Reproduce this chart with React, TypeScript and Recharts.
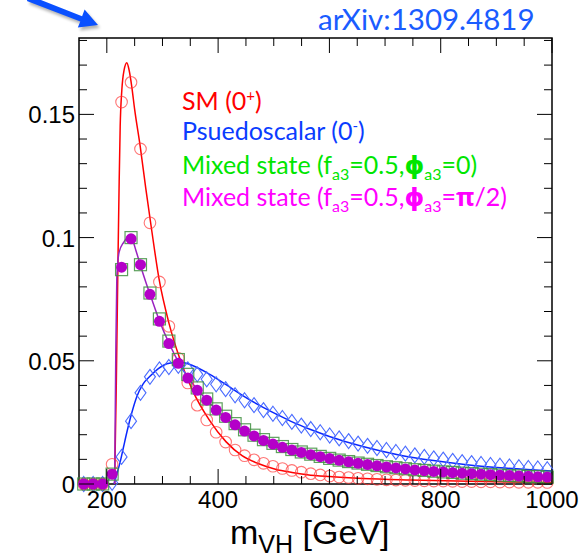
import { ComposedChart, Line, Scatter, XAxis, YAxis, ReferenceArea } from "recharts";

// bin centres of the 17 GeV bins, 150 - 1000 GeV
const binCentres = [
  158.5, 175.5, 192.5, 209.5, 226.5, 243.5, 260.5, 277.5, 294.5, 311.5,
  328.5, 345.5, 362.5, 379.5, 396.5, 413.5, 430.5, 447.5, 464.5, 481.5,
  498.5, 515.5, 532.5, 549.5, 566.5, 583.5, 600.5, 617.5, 634.5, 651.5,
  668.5, 685.5, 702.5, 719.5, 736.5, 753.5, 770.5, 787.5, 804.5, 821.5,
  838.5, 855.5, 872.5, 889.5, 906.5, 923.5, 940.5, 957.5, 974.5, 991.5,
];

const smYield = [
  0, 0, 0, 0.008, 0.155, 0.163, 0.136, 0.106, 0.082, 0.064,
  0.051, 0.041, 0.032, 0.026, 0.021, 0.017, 0.0138, 0.0115, 0.0098, 0.0084,
  0.0072, 0.0063, 0.0055, 0.0048, 0.0042, 0.0037, 0.0032, 0.0028, 0.0026, 0.0023,
  0.0021, 0.0019, 0.0017, 0.0016, 0.0015, 0.0014, 0.0013, 0.0012, 0.0012, 0.0011,
  0.001, 0.001, 0.0009, 0.0009, 0.0008, 0.0008, 0.0007, 0.0007, 0.0007, 0.0006,
];

const psYield = [
  0, 0, 0, 0.0005, 0.011, 0.0255, 0.037, 0.0435, 0.0465, 0.0475,
  0.048, 0.0465, 0.0445, 0.0425, 0.0405, 0.0385, 0.036, 0.034, 0.032, 0.03,
  0.0285, 0.0268, 0.0252, 0.0237, 0.0223, 0.021, 0.0197, 0.0185, 0.0174, 0.0164,
  0.0155, 0.0146, 0.0138, 0.013, 0.0123, 0.0116, 0.011, 0.0104, 0.0099, 0.0094,
  0.0089, 0.0085, 0.0081, 0.0077, 0.0074, 0.0071, 0.0068, 0.0065, 0.0063, 0.006,
];

const mixPhi0Yield = [
  0, 0, 0, 0.004, 0.087, 0.1, 0.089, 0.0775, 0.067, 0.058,
  0.0505, 0.0445, 0.039, 0.0345, 0.0305, 0.0275, 0.0245, 0.022, 0.0198, 0.018,
  0.0165, 0.0152, 0.014, 0.013, 0.0121, 0.0112, 0.0104, 0.0097, 0.0091, 0.0085,
  0.008, 0.0075, 0.007, 0.0066, 0.0062, 0.0058, 0.0055, 0.0052, 0.0049, 0.0047,
  0.0044, 0.0042, 0.004, 0.0038, 0.0036, 0.0034, 0.0033, 0.0031, 0.003, 0.0028,
];

const mixPhiHalfPiYield = [
  0, 0, 0, 0.004, 0.088, 0.0995, 0.089, 0.077, 0.066, 0.057,
  0.049, 0.043, 0.038, 0.034, 0.03, 0.027, 0.024, 0.0215, 0.0195, 0.0177,
  0.0162, 0.0149, 0.0138, 0.0128, 0.0119, 0.0111, 0.0103, 0.0096, 0.009, 0.0084,
  0.0079, 0.0074, 0.0069, 0.0065, 0.0061, 0.0057, 0.0054, 0.0051, 0.0049, 0.0046,
  0.0044, 0.0042, 0.004, 0.0038, 0.0036, 0.0034, 0.0032, 0.0031, 0.0029, 0.0028,
];

// fitted shapes
const smFitMass = [214, 217, 220, 222, 224, 227, 231, 236, 240, 245, 250, 260, 270, 280, 294, 312, 330, 354, 384, 414, 443, 473, 503, 533, 560, 600, 660, 745, 850, 1000];
const smFitValue = [0, 0.04, 0.09, 0.12, 0.145, 0.16, 0.168, 0.171, 0.168, 0.161, 0.152, 0.137, 0.12, 0.104, 0.083, 0.065, 0.0516, 0.038, 0.026, 0.0172, 0.0115, 0.0082, 0.006, 0.0047, 0.0038, 0.003, 0.0022, 0.0016, 0.0011, 0.0006];

const psFitMass = [213, 218, 224, 230, 236, 245, 254, 265, 278, 292, 308, 330, 355, 385, 415, 445, 475, 505, 535, 565, 600, 660, 727, 787, 847, 907, 1000];
const psFitValue = [0, 0.004, 0.009, 0.015, 0.021, 0.029, 0.0355, 0.0405, 0.0438, 0.0467, 0.0488, 0.0495, 0.048, 0.0445, 0.0402, 0.0358, 0.0318, 0.0283, 0.025, 0.0222, 0.0193, 0.0152, 0.0117, 0.0095, 0.0078, 0.0066, 0.0053];

const mixFitMass = [214, 216, 218, 222, 230, 240, 245, 252, 260, 270, 280, 295, 312, 330, 350, 380, 415, 450, 500, 550, 600, 660, 730, 800, 900, 1000];
const mixFitValue = [0, 0.05, 0.084, 0.094, 0.098, 0.1, 0.0995, 0.095, 0.089, 0.082, 0.0755, 0.066, 0.057, 0.049, 0.042, 0.034, 0.0265, 0.021, 0.0162, 0.0129, 0.0105, 0.0085, 0.0065, 0.0052, 0.0038, 0.0027];

const xTicks = [200, 250, 300, 350, 400, 450, 500, 550, 600, 650, 700, 750, 800, 850, 900, 950, 1000];
const xLabels = [200, 400, 600, 800, 1000];
const yTicks = [0, 0.01, 0.02, 0.03, 0.04, 0.05, 0.06, 0.07, 0.08, 0.09, 0.1, 0.11, 0.12, 0.13, 0.14, 0.15, 0.16, 0.17, 0.18];
const yLabels: Record<string, string> = { "0": "0", "0.05": "0.05", "0.1": "0.1", "0.15": "0.15" };

const W = 582;
const H = 557;
const LEFT = 79;
const RIGHT = 552;
const TOP = 38;
const BOTTOM = 484;

const pts = (xs: number[], ys: number[]) => xs.map((x, i) => ({ x, y: ys[i] }));

function XTick(props: any) {
  const { x, payload } = props;
  const major = xLabels.includes(payload.value);
  const len = major ? 15 : 8;
  return (
    <g>
      <line x1={x} x2={x} y1={BOTTOM} y2={BOTTOM - len} stroke="#000" strokeWidth={1} />
      <line x1={x} x2={x} y1={TOP} y2={TOP + len} stroke="#000" strokeWidth={1} />
      {major && (
        <text x={x} y={BOTTOM + 24} textAnchor="middle" fontSize={24} fill="#000" fontFamily="'Liberation Sans', Arial, sans-serif">
          {payload.value}
        </text>
      )}
    </g>
  );
}

function YTick(props: any) {
  const { y, payload } = props;
  const label = yLabels[String(payload.value)];
  const len = label ? 15 : 8;
  return (
    <g>
      <line x1={LEFT} x2={LEFT + len} y1={y} y2={y} stroke="#000" strokeWidth={1} />
      <line x1={RIGHT} x2={RIGHT - len} y1={y} y2={y} stroke="#000" strokeWidth={1} />
      {label && (
        <text x={LEFT - 4} y={y + 9} textAnchor="end" fontSize={24} fill="#000" fontFamily="'Liberation Sans', Arial, sans-serif">
          {label}
        </text>
      )}
    </g>
  );
}

const OpenCircle = (p: any) => (
  <circle cx={p.cx} cy={p.cy} r={5.8} fill="none" stroke="#ff3b3b" strokeOpacity={0.7} strokeWidth={1.1} />
);
const OpenDiamond = (p: any) => (
  <polygon
    points={`${p.cx},${p.cy - 7.5} ${p.cx + 5.5},${p.cy} ${p.cx},${p.cy + 7.5} ${p.cx - 5.5},${p.cy}`}
    fill="none"
    stroke="#4a6cff"
    strokeWidth={1.1}
  />
);
const OpenSquare = (p: any) => (
  <rect x={p.cx - 6} y={p.cy - 6} width={12} height={12} fill="none" stroke="#3f8f3f" strokeOpacity={0.85} strokeWidth={1.2} />
);
const FilledCircle = (p: any) => <circle cx={p.cx} cy={p.cy} r={5.5} fill="#b400c8" />;

const legendFont = "Lato, 'Open Sans', sans-serif";
const greekFont = "'Open Sans', 'DejaVu Sans', sans-serif";

export default function App() {
  return (
    <div style={{ position: "absolute", left: 0, top: 0, width: W, height: H, background: "#fff" }}>
      <ComposedChart width={W} height={H} margin={{ top: TOP, right: W - RIGHT, left: 0, bottom: 0 }}>
        <XAxis
          dataKey="x"
          type="number"
          domain={[150, 1000]}
          ticks={xTicks}
          interval={0}
          tick={<XTick />}
          tickLine={false}
          axisLine={false}
          height={H - BOTTOM}
        />
        <YAxis
          dataKey="y"
          type="number"
          domain={[0, 0.181]}
          ticks={yTicks}
          interval={0}
          tick={<YTick />}
          tickLine={false}
          axisLine={false}
          width={LEFT}
        />
        <Scatter data={pts(binCentres, psYield)} shape={OpenDiamond} isAnimationActive={false} />
        <Scatter data={pts(binCentres, smYield)} shape={OpenCircle} isAnimationActive={false} />
        <Scatter data={pts(binCentres, mixPhi0Yield)} shape={OpenSquare} isAnimationActive={false} />
        <Scatter data={pts(binCentres, mixPhiHalfPiYield)} shape={FilledCircle} isAnimationActive={false} />
        <Line data={pts(smFitMass, smFitValue)} dataKey="y" type="monotone" stroke="#ff0000" strokeWidth={1.5} dot={false} isAnimationActive={false} />
        <Line data={pts(psFitMass, psFitValue)} dataKey="y" type="monotone" stroke="#0a28ff" strokeWidth={1.5} dot={false} isAnimationActive={false} />
        <Line data={pts(mixFitMass, mixFitValue)} dataKey="y" type="monotone" stroke="#9a22c0" strokeWidth={1.5} dot={false} isAnimationActive={false} />
        <ReferenceArea x1={150} x2={1000} y1={0} y2={0.181} fill="none" fillOpacity={0} stroke="#000" strokeWidth={1.5} ifOverflow="visible" />
      </ComposedChart>

      <svg width={W} height={H} style={{ position: "absolute", left: 0, top: 0, pointerEvents: "none" }}>
        <defs>
          <filter id="shadow" x="-20%" y="-20%" width="140%" height="160%">
            <feGaussianBlur stdDeviation="1.5" />
          </filter>
        </defs>
        <polygon
          points="29.1,3.9 82.3,24.4 79.8,30.6 100,28 86.6,12.6 84.1,19.8 30.9,-0.7"
          fill="#000"
          opacity={0.3}
          filter="url(#shadow)"
        />
        <polygon points="26.9,0.9 80.3,21.4 77.8,27.6 98,25 84.6,9.6 82.1,16.3 29.1,-4.7" fill="#0a50ff" />
        <text x={318} y={30} fill="#1a5cff" fontSize={29.5} fontFamily={legendFont}>
          arXiv:1309.4819
        </text>

        <text x={182} y={110} fill="#ff0000" fontSize={25} fontFamily={legendFont}>
          SM (0<tspan dy={-9} fontSize={15}>+</tspan>
          <tspan dy={9}>)</tspan>
        </text>
        <text x={182} y={140} fill="#0a3cff" fontSize={25} fontFamily={legendFont}>
          Psuedoscalar (0<tspan dy={-9} fontSize={15}>-</tspan>
          <tspan dy={9}>)</tspan>
        </text>
        <text x={182} y={174} fill="#00e600" fontSize={25} fontFamily={legendFont}>
          Mixed state (f<tspan dy={6} fontSize={16}>a3</tspan>
          <tspan dy={-6}>=0.5,</tspan>
          <tspan fontFamily={greekFont} fontWeight="bold">ϕ</tspan>
          <tspan dy={6} fontSize={16}>a3</tspan>
          <tspan dy={-6}>=0)</tspan>
        </text>
        <text x={182} y={206} fill="#ff00ff" fontSize={25} fontFamily={legendFont}>
          Mixed state (f<tspan dy={6} fontSize={16}>a3</tspan>
          <tspan dy={-6}>=0.5,</tspan>
          <tspan fontFamily={greekFont} fontWeight="bold">ϕ</tspan>
          <tspan dy={6} fontSize={16}>a3</tspan>
          <tspan dy={-6}>=</tspan>
          <tspan fontFamily={greekFont} fontWeight="bold">π</tspan>
          <tspan>/2)</tspan>
        </text>

        <text x={230} y={544} fill="#000" fontSize={34} fontFamily="'Liberation Sans', Arial, sans-serif">
          m<tspan dy={9} fontSize={25}>VH</tspan>
          <tspan dy={-9}> [GeV]</tspan>
        </text>
      </svg>
    </div>
  );
}
